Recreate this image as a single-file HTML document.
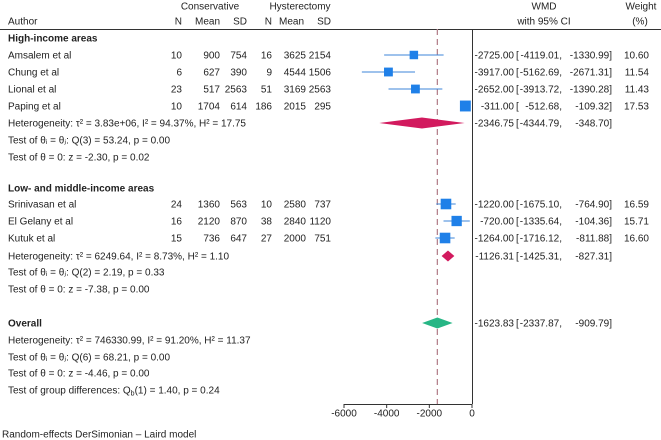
<!DOCTYPE html>
<html><head><meta charset="utf-8"><style>
body{margin:0;background:#fff}
svg{display:block;font-family:"Liberation Sans",Arial,sans-serif;font-size:10px;fill:#222}
</style></head><body>
<svg id="c" width="661" height="440"></svg>
<script>
const studies=["Amsalem et al","Chung et al","Lional et al","Paping et al","Srinivasan et al","El Gelany et al","Kutuk et al"];
const cN=[10,6,23,10,24,16,15];
const cMean=[900,627,517,1704,1360,2120,736];
const cSD=[754,390,2563,614,563,870,647];
const hN=[16,9,51,186,10,38,27];
const hMean=[3625,4544,3169,2015,2580,2840,2000];
const hSD=[2154,1506,2563,295,737,1120,751];
const est=[-2725.00,-3917.00,-2652.00,-311.00,-1220.00,-720.00,-1264.00];
const lo=[-4119.01,-5162.69,-3913.72,-512.68,-1675.10,-1335.64,-1716.12];
const hi=[-1330.99,-2671.31,-1390.28,-109.32,-764.90,-104.36,-811.88];
const weight=[10.60,11.54,11.43,17.53,16.59,15.71,16.60];
const pooledEst=[-2346.75,-1126.31,-1623.83];
const pooledLo=[-4344.79,-1425.31,-2337.87];
const pooledHi=[-348.70,-827.31,-909.79];
const ticks=[-6000,-4000,-2000,0];
const studyY=[55,72,89,106,204,221,238];
const pooledY=[123,256,323];
const NS="http://www.w3.org/2000/svg";
const svg=document.getElementById('c');
const X=v=>472+v*128/6000;
function el(t,a,txt){const e=document.createElementNS(NS,t);for(const k in a)e.setAttribute(k,a[k]);if(txt!==undefined)e.textContent=txt;svg.appendChild(e);return e;}
function T(x,y,s,anchor,name,bold){const e=el('text',{x:x,y:y+3.6,'text-anchor':anchor||'start','font-weight':bold?'bold':'normal'},s);return e;}
const f2=v=>v.toFixed(2);
// header
T(210,6,"Conservative","middle","conservative-header");
T(300,6,"Hysterectomy","middle","hysterectomy-header");
T(8,21,"Author","start","author-header");
[["N",182],["Mean",220],["SD",247],["N",272],["Mean",304],["SD",331]].forEach(a=>T(a[1],21,a[0],"end","col-header"));
T(544,6,"WMD","middle","wmd-header");T(544,21,"with 95% CI","middle","ci-header");
T(641,6,"Weight","middle","weight-header");T(640,21,"(%)","middle","weight-unit");
let l=el('line',{x1:0,x2:661,y1:29.5,y2:29.5,stroke:'#333','stroke-width':1});
l=el('line',{x1:472.5,x2:472.5,y1:29,y2:404,stroke:'#333','stroke-width':1});
l=el('line',{x1:X(pooledEst[2]),x2:X(pooledEst[2]),y1:29,y2:404,stroke:'#b5838d','stroke-width':1.3,'stroke-dasharray':'6,4'});
// axis
l=el('line',{x1:X(-6000),x2:X(0),y1:404.5,y2:404.5,stroke:'#333'});
ticks.forEach(t=>{let k=el('line',{x1:X(t),x2:X(t),y1:404,y2:408,stroke:'#333'});T(X(t),413,String(t),"middle","x-tick-label");});
// groups
T(8,38,"High-income areas","start","group-high-income",true);
T(8,188,"Low- and middle-income areas","start","group-low-middle-income",true);
T(8,323,"Overall","start","overall-label",true);
const hetTexts=[
[123,"Heterogeneity: τ² = 3.83e+06, I² = 94.37%, H² = 17.75"],[140,"Test of θᵢ = θⱼ: Q(3) = 53.24, p = 0.00"],[157,"Test of θ = 0: z = -2.30, p = 0.02"],
[256,"Heterogeneity: τ² = 6249.64, I² = 8.73%, H² = 1.10"],[272,"Test of θᵢ = θⱼ: Q(2) = 2.19, p = 0.33"],[289,"Test of θ = 0: z = -7.38, p = 0.00"],
[340,"Heterogeneity: τ² = 746330.99, I² = 91.20%, H² = 11.37"],[357,"Test of θᵢ = θⱼ: Q(6) = 68.21, p = 0.00"],[373,"Test of θ = 0: z = -4.46, p = 0.00"]];
hetTexts.forEach(h=>T(8,h[0],h[1],"start","stat-text"));
const g=T(8,390,"Test of group differences: Q","start","group-diff-text");
const sub=document.createElementNS(NS,'tspan');sub.setAttribute('font-size','7');sub.setAttribute('dy','2');sub.textContent='b';g.appendChild(sub);
const rest=document.createElementNS(NS,'tspan');rest.setAttribute('dy','-2');rest.textContent='(1) = 1.40, p = 0.24';g.appendChild(rest);
T(2,434,"Random-effects DerSimonian – Laird model","start","model-footnote");
function wmdText(y,e,a,b,name){T(514,y,f2(e),"end",name);T(516,y,"[","start",name);T(562,y,f2(a)+",","end",name);T(612,y,f2(b)+"]","end",name);}
studies.forEach((s,i)=>{
 const y=studyY[i];
 T(8,y,s,"start","study-name");
 T(182,y,cN[i],"end","cons-n");T(220,y,cMean[i],"end","cons-mean");T(247,y,cSD[i],"end","cons-sd");
 T(272,y,hN[i],"end","hyst-n");T(306,y,hMean[i],"end","hyst-mean");T(331,y,hSD[i],"end","hyst-sd");
 wmdText(y,est[i],lo[i],hi[i],"study-wmd");
 T(649,y,f2(weight[i]),"end","study-weight");
 const ci=el('line',{x1:X(lo[i]),x2:Math.min(X(hi[i]),472),y1:y,y2:y,stroke:'#3c85d8','stroke-width':1});
 
 
 const sd=2.6*Math.sqrt(weight[i]);
 const bx=el('rect',{x:X(est[i])-sd/2,y:y-sd/2,width:sd,height:sd,fill:'#1f80e8'});
 
 
});
const pcol=['#d21a5e','#d21a5e','#27b685'];
pooledEst.forEach((e,i)=>{
 const y=pooledY[i];
 const d=el('polygon',{points:`${X(pooledLo[i])},${y} ${X(e)},${y-5.5} ${X(pooledHi[i])},${y} ${X(e)},${y+5.5}`,fill:pcol[i]});
 
 
 wmdText(y,e,pooledLo[i],pooledHi[i],"pooled-wmd");
});
</script>
</body></html>
